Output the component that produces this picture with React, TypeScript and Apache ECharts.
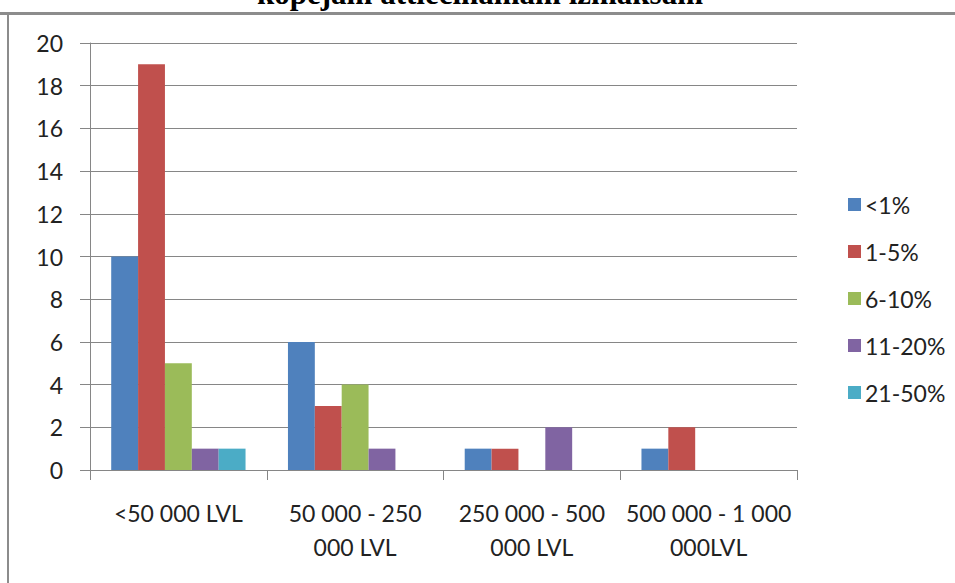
import React, { useEffect, useRef } from "react";
import * as echarts from "echarts";

const categories = [
  "<50 000 LVL",
  "50 000 - 250\n000 LVL",
  "250 000 - 500\n000 LVL",
  "500 000 - 1 000\n000LVL",
];
const seriesNames = ["<1%", "1-5%", "6-10%", "11-20%", "21-50%"];
const lt1 = [10, 6, 1, 1];
const p1to5 = [19, 3, 1, 2];
const p6to10 = [5, 4, 0, 0];
const p11to20 = [1, 1, 2, 0];
const p21to50 = [1, 0, 0, 0];
const seriesValues = [lt1, p1to5, p6to10, p11to20, p21to50];
const colors = ["#4F81BD", "#C0504D", "#9BBB59", "#8064A2", "#4BACC6"];
const titleText = "kopējām attiecināmām izmaksām";

const FONT = "Lato";
const GRAY = "#868686";

export default function App() {
  const ref = useRef<HTMLDivElement>(null);
  useEffect(() => {
    document.body.style.margin = "0";
    document.body.style.overflow = "hidden";
    const chart = echarts.init(ref.current!, null, { renderer: "svg" });
    chart.setOption({
      animation: false,
      backgroundColor: "#ffffff",
      textStyle: { fontFamily: FONT },
      grid: { left: 90, right: 158, top: 43, bottom: 113, containLabel: false },
      legend: {
        orient: "vertical",
        left: 843,
        top: 188,
        itemWidth: 13,
        itemHeight: 13,
        itemGap: 24,
        icon: "rect",
        data: seriesNames,
        textStyle: { fontFamily: FONT, fontSize: 23, color: "#222", padding: [0, 0, 0, -1] },
      },
      xAxis: {
        type: "category",
        data: categories,
        axisLine: { show: true, lineStyle: { color: GRAY, width: 1 } },
        axisTick: { show: true, length: 10, alignWithLabel: false, lineStyle: { color: GRAY } },
        axisLabel: {
          interval: 0,
          margin: 26,
          fontFamily: FONT,
          fontSize: 23,
          lineHeight: 34,
          color: "#222",
        },
      },
      yAxis: {
        type: "value",
        min: 0,
        max: 20,
        interval: 2,
        axisLine: { show: true, lineStyle: { color: GRAY, width: 1 } },
        axisTick: { show: true, length: 10, lineStyle: { color: GRAY } },
        axisLabel: { margin: 27, fontFamily: FONT, fontSize: 23, color: "#222" },
        splitLine: { show: true, lineStyle: { color: GRAY, width: 1 } },
      },
      series: seriesValues.map((vals, i) => ({
        name: seriesNames[i],
        type: "bar",
        data: vals,
        barGap: "0%",
        barCategoryGap: "24%",
        itemStyle: { color: colors[i] },
      })),
      graphic: [
        {
          type: "polyline",
          shape: { points: [[0, 13.5], [955, 13.5]] },
          style: { stroke: "#8c8c8c", lineWidth: 3, fill: null },
          silent: true,
        },
        {
          type: "polyline",
          shape: { points: [[8, 13], [8, 583]] },
          style: { stroke: "#8c8c8c", lineWidth: 2, fill: null },
          silent: true,
        },
        {
          type: "text",
          x: 480,
          y: -7,
          style: {
            text: titleText,
            font: "bold 31px 'Liberation Serif'",
            fill: "#000",
            align: "center",
            verticalAlign: "middle",
          },
          silent: true,
        },
      ],
    });
    return () => chart.dispose();
  }, []);
  return (
    <div
      ref={ref}
      style={{ position: "absolute", left: 0, top: 0, width: 955, height: 583, overflow: "hidden" }}
    />
  );
}
